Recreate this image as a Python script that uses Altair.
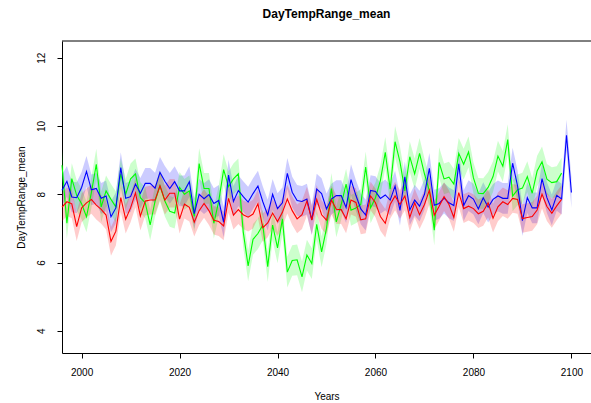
import altair as alt
import pandas as pd

# Annual mean of the daily temperature range for three model runs
years_blue = list(range(1996, 2101))
years_green_red = list(range(1996, 2099))

blue = [
    8.12, 8.38, 7.92, 7.90, 8.20, 8.67, 8.13, 8.17, 7.88, 7.95,
    7.34, 7.60, 8.78, 7.88, 7.93, 8.30, 8.03, 8.32, 8.32, 8.18,
    8.64, 8.38, 8.17, 8.37, 8.10, 8.10, 8.37, 7.43, 8.00, 7.87,
    7.99, 7.73, 7.82, 7.18, 8.56, 7.79, 8.11, 7.93, 7.77, 8.02,
    8.24, 7.78, 7.39, 8.00, 7.58, 7.75, 8.61, 8.06, 7.82, 7.79,
    7.86, 7.25, 8.15, 8.02, 7.57, 7.86, 7.96, 7.96, 7.61, 8.43,
    7.97, 7.57, 7.39, 8.11, 8.08, 7.88, 7.98, 7.83, 8.24, 7.53,
    8.51, 7.54, 7.83, 7.65, 8.00, 8.76, 7.68, 7.73, 7.89, 7.75,
    7.67, 8.89, 7.67, 7.96, 7.86, 7.57, 7.90, 7.62, 7.85, 7.95,
    7.88, 7.88, 8.91, 8.25, 7.23, 7.90, 7.60, 7.60, 8.46, 7.90,
    7.54, 7.97, 7.86, 9.73, 8.05,
]

green = [
    8.85, 7.15, 8.46, 7.97, 7.72, 7.34, 8.05, 8.88, 7.63, 8.10,
    7.85, 7.63, 8.60, 8.00, 8.45, 8.60, 7.90, 7.75, 7.10, 7.80,
    8.25, 7.80, 7.50, 7.45, 8.20, 8.00, 8.10, 7.35, 8.90, 8.17,
    8.17, 7.15, 7.80, 8.72, 8.22, 8.45, 8.60, 6.90, 5.90, 6.68,
    6.85, 7.10, 5.88, 7.10, 6.43, 7.28, 5.72, 6.06, 6.08, 5.58,
    6.22, 5.97, 7.12, 6.31, 7.00, 8.17, 7.19, 7.70, 8.30, 7.53,
    7.60, 7.70, 8.80, 7.60, 7.90, 8.40, 9.23, 8.15, 9.54, 8.95,
    8.10, 9.10, 8.60, 9.20, 8.60, 8.10, 6.95, 8.93, 8.45, 8.50,
    8.30, 9.20, 8.88, 9.24, 8.48, 8.03, 8.02, 8.20, 8.52, 9.12,
    8.82, 9.60, 7.95, 8.13, 8.18, 8.52, 8.03, 8.68, 8.95, 8.44,
    8.34, 8.37, 8.62,
]

red = [
    7.62, 7.78, 7.72, 7.05, 7.60, 7.75, 7.85, 7.68, 7.56, 7.39,
    6.62, 6.92, 7.90, 7.27, 7.60, 8.04, 7.36, 7.80, 7.83, 7.83,
    8.25, 7.83, 8.03, 8.03, 7.27, 7.71, 7.62, 7.18, 7.52, 7.73,
    7.52, 7.24, 7.20, 7.07, 7.88, 7.39, 7.55, 7.40, 7.33, 7.42,
    7.72, 7.02, 7.16, 7.45, 7.20, 7.47, 7.86, 7.52, 7.28, 7.40,
    7.80, 7.24, 7.85, 7.40, 7.24, 7.83, 7.56, 7.55, 7.28, 7.83,
    7.76, 7.25, 7.28, 7.95, 7.75, 7.35, 7.15, 7.70, 7.95, 7.70,
    7.95, 7.32, 7.75, 7.40, 7.70, 8.12, 7.39, 7.65, 7.93, 7.70,
    7.32, 8.05, 7.58, 7.65, 7.58, 7.43, 7.50, 7.75, 7.30, 7.63,
    7.78, 7.70, 7.88, 7.85, 7.29, 7.32, 7.35, 7.54, 8.00, 7.64,
    7.44, 7.66, 7.85,
]

# half-width of the shaded uncertainty ribbon around each run
band_half_width = {"blue": 0.45, "green": 0.45, "red": 0.42}

x_ticks = [2000, 2020, 2040, 2060, 2080, 2100]
y_ticks = [4, 6, 8, 10, 12]

PLOT_W, PLOT_H = 529, 312
FONT = "Liberation Sans"


def frame(years, values, hw):
    return pd.DataFrame({
        "year": years,
        "value": values,
        "lower": [v - hw for v in values],
        "upper": [v + hw for v in values],
    })


series = [
    ("blue", years_blue, blue, "#0000FF"),
    ("green", years_green_red, green, "#00FF00"),
    ("red", years_green_red, red, "#FF0000"),
]

x_enc = alt.X(
    "year:Q",
    scale=alt.Scale(domain=[1996, 2104], nice=False, zero=False),
    axis=alt.Axis(values=x_ticks, format="d", title="Years", grid=False,
                  labelPadding=9, titlePadding=14),
)
y_scale = alt.Scale(domain=[3.35, 12.49], nice=False, zero=False)
y_axis = alt.Axis(values=y_ticks, title="DayTempRange_mean", grid=False,
                  labelAngle=270, labelAlign="center", labelBaseline="bottom",
                  labelPadding=11, titlePadding=10)

bands = []
lines = []
for name, yrs, vals, col in series:
    df = frame(yrs, vals, band_half_width[name])
    base = alt.Chart(df)
    bands.append(
        base.mark_area(color=col, opacity=0.2).encode(
            x=x_enc,
            y=alt.Y("lower:Q", scale=y_scale, axis=y_axis),
            y2="upper:Q",
        )
    )
    lines.append(
        base.mark_line(color=col, strokeWidth=1.1).encode(
            x=x_enc,
            y=alt.Y("value:Q", scale=y_scale, axis=y_axis),
        )
    )

# top edge of the plot box
top_edge = alt.Chart(pd.DataFrame({"k": [0]})).mark_rule(
    color="black", strokeWidth=1
).encode(x=alt.value(0), x2=alt.value(PLOT_W), y=alt.value(0))

line_order = [lines[1], lines[0], lines[2]]

chart = alt.layer(*bands, *line_order, top_edge).properties(
    width=PLOT_W,
    height=PLOT_H,
    background="white",
    autosize=alt.AutoSizeParams(type="none"),
    padding={"left": 62, "top": 41, "right": 0, "bottom": 50},
    title=alt.TitleParams(
        "DayTempRange_mean", font=FONT, fontSize=12, fontWeight="bold",
        anchor="middle", offset=20, color="black",
    ),
).configure_view(strokeWidth=0).configure_axis(
    labelFont=FONT, labelFontSize=10, labelColor="black",
    titleFont=FONT, titleFontSize=10, titleFontWeight="normal", titleColor="black",
    tickColor="black", tickSize=5, domainColor="black", domainWidth=1,
)

chart.save("out.html", embed_options={"renderer": "svg", "actions": False})
